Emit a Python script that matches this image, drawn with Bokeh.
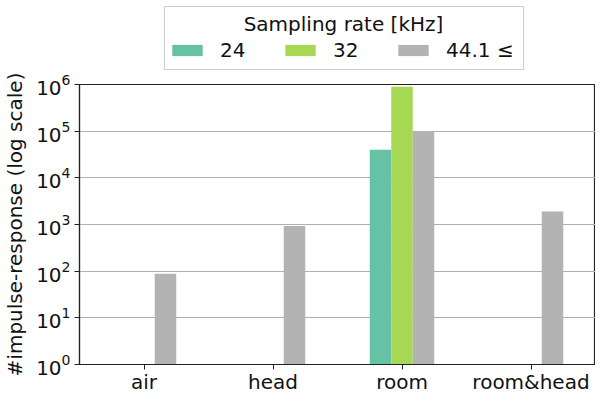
from bokeh.plotting import figure
from bokeh.layouts import column
from bokeh.models import FactorRange, Range1d, Legend, LegendItem, ColumnDataSource
from bokeh.core.properties import value
from bokeh.transform import dodge
from bokeh.embed import file_html
from bokeh.resources import INLINE

categories = ["air", "head", "room", "room&head"]
series_labels = ["24", "32", "44.1 \u2264"]
legend_title = "Sampling rate [kHz]"
sr24 = [0, 0, 40000, 0]
sr32 = [0, 0, 890000, 0]
sr44 = [88, 930, 97000, 1900]
colors = ["#66c2a5", "#a6d854", "#b3b3b3"]
offsets = [-1 / 6, 0, 1 / 6]

FONT = "DejaVu Sans"
TXT = "#111111"
BL, FW = 75, 516   # left border and frame width shared by both strips

# ---------- main chart ----------
p = figure(
    frame_width=FW, frame_height=280,
    x_range=FactorRange(*categories, range_padding=0),
    y_range=Range1d(1, 1e6),
    y_axis_type="log",
    output_backend="svg",
    toolbar_location=None,
    min_border_left=BL, min_border_right=0, min_border_bottom=26, min_border_top=12,
)

for vals, col, off in zip([sr24, sr32, sr44], colors, offsets):
    cats = [c for c, v in zip(categories, vals) if v > 0]
    tops = [v for v in vals if v > 0]
    src = ColumnDataSource(dict(cat=cats, top=tops, bottom=[1] * len(tops)))
    p.vbar(x=dodge("cat", off, range=p.x_range), top="top", bottom="bottom",
           width=1 / 6, source=src, fill_color=col, line_color=None)

p.xgrid.grid_line_color = None
p.ygrid.grid_line_color = "#b0b0b0"
p.ygrid.grid_line_width = 1

p.outline_line_color = "#222222"
p.outline_line_width = 1.2

for ax in (p.xaxis[0], p.yaxis[0]):
    ax.axis_line_color = "#222222"
    ax.axis_line_width = 1.2
    ax.major_tick_line_color = "#222222"
    ax.major_tick_out = 5
    ax.major_tick_in = 0
    ax.minor_tick_line_color = None
    ax.major_label_text_font = FONT
    ax.major_label_text_font_size = "20px"
    ax.major_label_text_color = TXT
    ax.axis_label_text_font = FONT
    ax.axis_label_text_font_size = "20px"
    ax.axis_label_text_font_style = "normal"
    ax.axis_label_text_color = TXT

p.yaxis[0].axis_label = "#impulse-response (log scale)"
p.yaxis[0].axis_label_standoff = 6
p.yaxis[0].major_label_standoff = 4
p.xaxis[0].major_label_standoff = 0

# ---------- legend strip above (data units = figure pixels) ----------
LH = 72
lf = figure(
    frame_width=FW, frame_height=LH,
    x_range=Range1d(BL, BL + FW), y_range=Range1d(0, LH),
    x_axis_location=None, y_axis_location=None,
    output_backend="svg", toolbar_location=None,
    min_border_left=BL, min_border_right=0, min_border_top=0, min_border_bottom=0,
)
lf.outline_line_color = None
lf.grid.grid_line_color = None

# legend frame and title
lf.quad(left=[160], right=[519], bottom=[3], top=[66],
        fill_color="white", line_color="#cccccc", line_width=1)
lf.text(x=[339], y=[49], text=[legend_title], text_align="center",
        text_baseline="middle", text_font=value(FONT), text_font_size="20px",
        text_color=TXT)

item_x = [143, 256, 369]   # legend item anchors
for lab, col, ix in zip(series_labels, colors, item_x):
    r = lf.vbar(x=[-100], top=[-50], bottom=[-60], width=10, fill_color=col, line_color=None)
    lg = Legend(
        items=[LegendItem(label=lab, renderers=[r])],
        orientation="horizontal",
        label_text_font=FONT,
        label_text_font_size="20px",
        label_text_color=TXT,
        glyph_width=38,
        glyph_height=14,
        label_standoff=14,
        padding=0,
        margin=0,
        border_line_color=None,
        background_fill_alpha=0,
        location=(ix, 10),
    )
    lf.add_layout(lg, "center")

layout = column(lf, p, spacing=0)

open("out.html", "w").write(file_html(layout, INLINE))
